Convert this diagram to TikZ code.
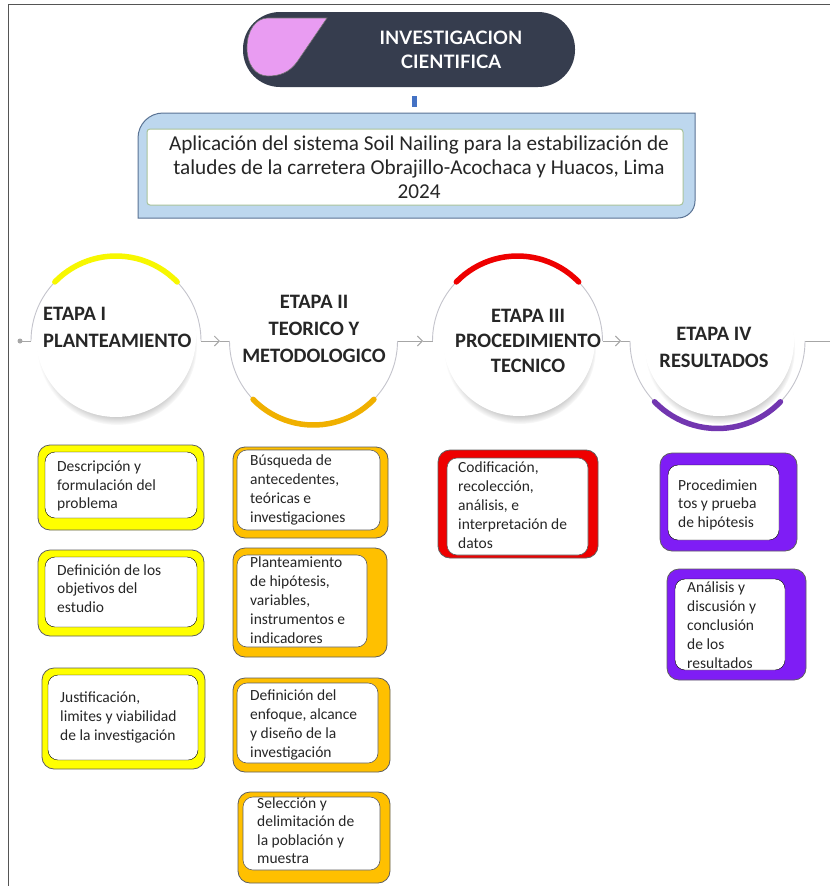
\documentclass[tikz,border=0pt]{standalone}
\usepackage{fontspec}
\setmainfont{Carlito}
\newfontfamily\headfont{Lato}
\usetikzlibrary{arrows.meta,shadows,calc}
\definecolor{navy}{HTML}{363D4E}
\definecolor{pinkv}{HTML}{E99CF2}
\definecolor{ttlblue}{HTML}{BDD7EE}
\definecolor{ttledge}{HTML}{5A7394}
\definecolor{ttlgreen}{HTML}{A8C39A}
\definecolor{barblue}{HTML}{4472C4}
\definecolor{ylw}{HTML}{F7F700}
\definecolor{ylwbox}{HTML}{FFFF00}
\definecolor{org}{HTML}{FFC000}
\definecolor{orgarc}{HTML}{F0B000}
\definecolor{redc}{HTML}{EE0000}
\definecolor{purp}{HTML}{7F1DF5}
\definecolor{purparc}{HTML}{7236B0}
\definecolor{ringgray}{HTML}{C4C4CC}
\definecolor{linegray}{HTML}{A6A6A6}
\definecolor{boxedge}{HTML}{5F5F5F}
\definecolor{txtcol}{HTML}{262626}
\definecolor{framecol}{HTML}{555555}
\tikzset{
  outerbox/.style={draw=boxedge, line width=0.8pt, rounded corners=12pt},
  innerbox/.style={fill=white, rounded corners=10pt},
  bodytxt/.style={anchor=base west, align=left, inner sep=0pt, text=txtcol},
  ringline/.style={draw=ringgray, line width=0.9pt},
  stagearc/.style={line width=5.5pt, line cap=round},
  conn/.style={draw=linegray, line width=0.9pt},
  fwdtip/.style={-{Straight Barb[length=5pt,width=10pt]}},
  disk/.style={circle, fill=white, inner sep=0pt},
  stagetxt/.style={font=\fontsize{20.5}{27}\selectfont\bfseries, text=txtcol, inner sep=0pt, anchor=base},
  dshadow/.style={circular drop shadow={shadow xshift=1pt, shadow yshift=-8pt, shadow scale=1.0, opacity=0.55}}
}
\newcommand\stgbox[6]{%
  \draw[outerbox, fill=#1] #2 rectangle #3;
  \draw[innerbox, #6] #4 rectangle #5;}
\begin{document}
\begin{tikzpicture}[x=1pt,y=-1pt]
\useasboundingbox (0,0) rectangle (830,886);
\fill[white] (0,0) rectangle (830,886);
\draw[framecol, line width=1.6pt] (8.5,886) -- (8.5,4.5) -- (830,4.5);

% header
\node[fill=navy, rounded corners=37pt, minimum width=332pt, minimum height=75pt, inner sep=0pt] (head) at (409,49.5) {};
\draw[fill=pinkv, draw=black!55, line width=0.6pt] (268,18) -- (327,18) -- (297,62) .. controls (289,73) and (279,76) .. (268,76) .. controls (255,76) and (247,64) .. (247,48) .. controls (247,30) and (256,18) .. (268,18) -- cycle;
\node[font=\headfont\bfseries\fontsize{18.5}{24}\selectfont, text=white, align=center, inner sep=0pt] (headtxt) at (451,50) {INVESTIGACION\\CIENTIFICA};

% short bar under header
\coordinate (hb1) at (414.7,96);
\coordinate (hb2) at (414.7,107);
\draw[barblue, line width=4.5pt] (hb1) -- (hb2);

% title box
\draw[fill=ttlblue, draw=ttledge, line width=1pt] (138,218) -- (138,138) arc[start angle=180,end angle=270,radius=25] -- (695,113) -- (695,201) arc[start angle=0,end angle=90,radius=17] -- cycle;
\draw[fill=white, draw=ttlgreen, line width=1pt, rounded corners=3pt] (147,129) rectangle (683,205);
\node[font=\fontsize{21.2}{24}\selectfont, text=txtcol, align=center, anchor=base, inner sep=0pt] (ttl) at (419,198) {Aplicación del sistema Soil Nailing para la estabilización de\\taludes de la carretera Obrajillo-Acochaca y Huacos, Lima\\2024};

% ring centres and connection points
\coordinate (c1) at (116,341);
\coordinate (c2) at (313.5,341);
\coordinate (c3) at (517.5,341);
\coordinate (c4) at (717.5,341);
\coordinate (s0) at (20,341);
\coordinate (r1w) at (31,341);
\coordinate (r1e) at (201,341);
\coordinate (r2w) at (229.5,341);
\coordinate (r2e) at (397.5,341);
\coordinate (r3w) at (432.5,341);
\coordinate (r3e) at (602.5,341);
\coordinate (r4w) at (630,341);
\coordinate (r4e) at (805,341);
\coordinate (e0) at (830,341);
\coordinate (a1) at (220,341);
\coordinate (a2) at (423,341);
\coordinate (a3) at (621,341);

% connectors
\fill[linegray] (s0) circle (2.5);
\draw[conn] (s0) -- (r1w);
\draw[conn, fwdtip] (r1e) -- (a1);
\draw[conn] (a1) -- (r2w);
\draw[conn, fwdtip] (r2e) -- (a2);
\draw[conn] (a2) -- (r3w);
\draw[conn, fwdtip] (r3e) -- (a3);
\draw[conn] (a3) -- (r4w);
\draw[conn] (r4e) -- (e0);

% disks
\node[disk, minimum size=160pt, dshadow] (d1) at (116,337) {};
\node[disk, minimum size=152pt, dshadow] (d3) at (519,340) {};
\node[disk, minimum size=150pt, dshadow] (d4) at (719,341) {};

% rings
\draw[ringline] ($(c1)+(-85,0)$) arc[start angle=180,end angle=360,radius=85];
\draw[stagearc, draw=ylw] ($(c1)+(224:85)$) arc[start angle=224,end angle=316,radius=85];
\draw[ringline] ($(c2)+(-84,0)$) arc[start angle=180,end angle=0,radius=84];
\draw[stagearc, draw=orgarc] ($(c2)+(136:84)$) arc[start angle=136,end angle=44,radius=84];
\draw[ringline] ($(c3)+(-85,0)$) arc[start angle=180,end angle=360,radius=85];
\draw[stagearc, draw=redc] ($(c3)+(224:85)$) arc[start angle=224,end angle=316,radius=85];
\draw[ringline] ($(c4)+(-87.5,0)$) arc[start angle=180,end angle=0,radius=87.5];
\draw[stagearc, draw=purparc] ($(c4)+(136:87.5)$) arc[start angle=136,end angle=44,radius=87.5];

% stage titles (anchored at the baseline of the last line)
\node[stagetxt, anchor=base west, align=left] (t1) at (43,347) {ETAPA I\\PLANTEAMIENTO};
\node[stagetxt, align=center] (t2) at (314,362) {ETAPA II\\TEORICO Y\\METODOLOGICO};
\node[stagetxt, align=center, font=\fontsize{20.5}{25}\selectfont\bfseries] (t3) at (528,372) {ETAPA III\\PROCEDIMIENTO\\TECNICO};
\node[stagetxt, align=center] (t4) at (714,367) {ETAPA IV\\RESULTADOS};

% column I (yellow)
\stgbox{ylwbox}{(38,445)}{(204,530)}{(45,452)}{(197,518)}{}
\node[bodytxt, font=\fontsize{15.5}{18.3}\selectfont] (y1) at (57,508.3) {Descripción y\\formulación del\\problema};
\stgbox{ylwbox}{(38,550)}{(204,636)}{(45,557)}{(197,627)}{}
\node[bodytxt, font=\fontsize{15.5}{18.5}\selectfont] (y2) at (57,612) {Definición de los\\objetivos del\\estudio};
\stgbox{ylwbox}{(42,668)}{(205,769)}{(48,675)}{(198,760)}{}
\node[bodytxt, font=\fontsize{15.5}{19}\selectfont] (y3) at (60,740) {Justificación,\\limites y viabilidad\\de la investigación};

% column II (orange)
\stgbox{org}{(233,447)}{(388,538)}{(237,450)}{(380,530)}{draw=boxedge, line width=0.6pt}
\node[bodytxt, font=\fontsize{15.5}{19}\selectfont] (o1) at (250,522) {Búsqueda de\\antecedentes,\\teóricas e\\investigaciones};
\stgbox{org}{(233,548)}{(387,657)}{(237,555)}{(367,647)}{draw=boxedge, line width=0.6pt}
\node[bodytxt, font=\fontsize{15.5}{19.2}\selectfont] (o2) at (250,643.8) {Planteamiento\\de hipótesis,\\variables,\\instrumentos e\\indicadores};
\stgbox{org}{(233,678)}{(390,772)}{(237,683)}{(378,763)}{draw=boxedge, line width=0.6pt}
\node[bodytxt, font=\fontsize{15.5}{19}\selectfont] (o3) at (250,757) {Definición del\\enfoque, alcance\\y diseño de la\\investigación};
\stgbox{org}{(238,792)}{(390,883)}{(243,797)}{(380,870)}{draw=boxedge, line width=0.6pt}
\node[bodytxt, font=\fontsize{15.5}{18.5}\selectfont] (o4) at (257,863.5) {Selección y\\delimitación de\\la población y\\muestra};

% column III (red)
\stgbox{redc}{(438,450)}{(598,558)}{(447,458)}{(588,555)}{draw=boxedge, line width=0.6pt}
\node[bodytxt, font=\fontsize{15.5}{19.2}\selectfont] (rd1) at (458,548.8) {Codificación,\\recolección,\\análisis, e\\interpretación de\\datos};

% column IV (purple)
\stgbox{purp}{(660,453)}{(797,551)}{(668,465)}{(779,540)}{}
\node[bodytxt, font=\fontsize{15.5}{18.5}\selectfont] (p1) at (678,527) {Procedimien\\tos y prueba\\de hipótesis};
\stgbox{purp}{(667,569)}{(806,680)}{(675,579)}{(785,670)}{}
\node[bodytxt, font=\fontsize{15.5}{19}\selectfont] (p2) at (687,668) {Análisis y\\discusión y\\conclusión\\de los\\resultados};
\end{tikzpicture}
\end{document}
